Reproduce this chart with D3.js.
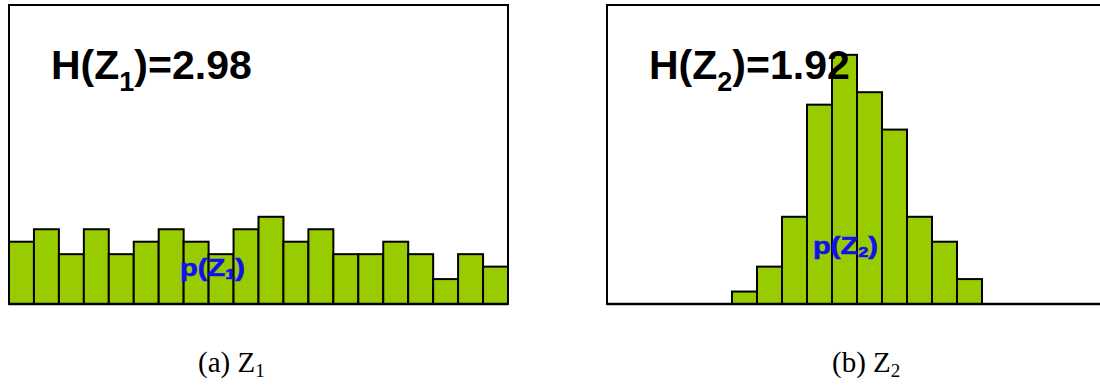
<!DOCTYPE html>
<html>
<head>
<meta charset="utf-8">
<script src="https://cdn.jsdelivr.net/npm/d3@7"></script>
<style>
  html, body { margin: 0; padding: 0; background: #fff; }
  svg { display: block; }
</style>
</head>
<body>
<svg id="chart" width="1100" height="385"></svg>
<script>
// ---- data ----
const binIndex = d3.range(20);
const countsZ1 = [5, 6, 4, 6, 4, 5, 6, 5, 4, 6, 7, 5, 6, 4, 4, 5, 4, 2, 4, 3];
const countsZ2 = [0, 0, 0, 0, 0, 1, 3, 7, 16, 20, 17, 14, 7, 5, 2, 0, 0, 0, 0, 0];
const entropyLabels = ["2.98", "1.92"];
const varSubs = ["1", "2"];
const captionLetters = ["(a)", "(b)"];
const yMax = 24;

// ---- layout ----
const svg = d3.select("#chart");
const panels = [
  { counts: countsZ1, x0: 9, x1: 508, titleX: 51, pX: 180, pY: 276, capX: 198 },
  { counts: countsZ2, x0: 607, x1: 1107, titleX: 649, pX: 813, pY: 254, capX: 832 }
];
const frameTop = 5, frameBottom = 304;

svg.append("defs").append("clipPath").attr("id", "clipAll")
  .append("rect").attr("x", 0).attr("y", 0).attr("width", 1100).attr("height", 385);

panels.forEach((p, i) => {
  const g = svg.append("g").attr("clip-path", "url(#clipAll)");
  const x = d3.scaleBand().domain(binIndex).range([p.x0, p.x1]).padding(0);
  const y = d3.scaleLinear().domain([0, yMax]).range([frameBottom, frameTop]);

  g.append("rect")
    .attr("x", p.x0).attr("y", frameTop)
    .attr("width", p.x1 - p.x0).attr("height", frameBottom - frameTop)
    .attr("fill", "#fff").attr("stroke", "#000").attr("stroke-width", 2);

  g.selectAll("rect.bar")
    .data(binIndex.filter(k => p.counts[k] > 0))
    .join("rect")
    .attr("class", "bar")
    .attr("x", k => x(k))
    .attr("y", k => y(p.counts[k]))
    .attr("width", x.bandwidth())
    .attr("height", k => y(0) - y(p.counts[k]))
    .attr("fill", "#99cc00")
    .attr("stroke", "#000")
    .attr("stroke-width", 2);

  g.append("line")
    .attr("x1", p.x0).attr("x2", p.x1).attr("y1", frameBottom).attr("y2", frameBottom)
    .attr("stroke", "#000").attr("stroke-width", 2.5);

  const t = g.append("text")
    .attr("x", p.titleX).attr("y", 79)
    .attr("font-family", "Liberation Sans, Arial, sans-serif")
    .attr("font-weight", "bold").attr("font-size", 41).attr("fill", "#000");
  t.append("tspan").text("H(Z");
  t.append("tspan").attr("font-size", 27).attr("dy", 12).text(varSubs[i]);
  t.append("tspan").attr("dy", -12).text(")=" + entropyLabels[i]);

  const pl = g.append("text")
    .attr("x", p.pX).attr("y", p.pY)
    .attr("font-family", "Liberation Sans, Arial, sans-serif")
    .attr("font-weight", "bold").attr("font-size", 24).attr("fill", "#1010f0")
    .attr("stroke", "#1010f0").attr("stroke-width", 0.6)
    .attr("textLength", 65).attr("lengthAdjust", "spacingAndGlyphs");
  pl.append("tspan").text("p(Z");
  pl.append("tspan").attr("font-size", 15).attr("dy", 3).text(varSubs[i]);
  pl.append("tspan").attr("dy", -3).text(")");

  const c = svg.append("text")
    .attr("x", p.capX).attr("y", 372)
    .attr("font-family", "Liberation Serif, Times New Roman, serif")
    .attr("font-size", 29).attr("fill", "#000");
  c.append("tspan").text(captionLetters[i] + " Z");
  c.append("tspan").attr("font-size", 19).attr("dy", 5).text(varSubs[i]);
});
</script>
</body>
</html>
